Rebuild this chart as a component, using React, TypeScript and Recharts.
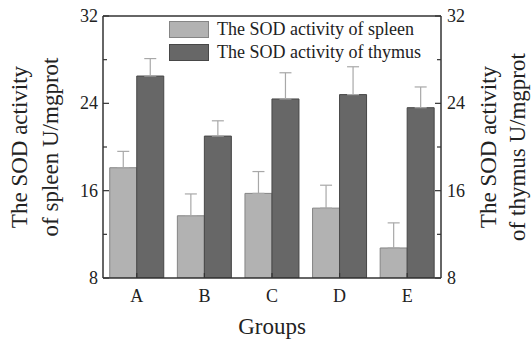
import React from 'react';
import { BarChart, Bar, XAxis, YAxis, ErrorBar, ReferenceLine, Legend } from 'recharts';

const groups = ['A', 'B', 'C', 'D', 'E'];
const spleen = [18.1, 13.7, 15.75, 14.4, 10.75];
const spleenErr = [1.5, 2.0, 2.0, 2.1, 2.3];
const thymus = [26.5, 21.0, 24.4, 24.8, 23.6];
const thymusErr = [1.6, 1.4, 2.4, 2.55, 1.9];
const yTicks = [8, 12, 16, 20, 24, 28, 32];
const majorTicks = [8, 16, 24, 32];

const data = groups.map((g, i) => ({
  group: g,
  spleen: spleen[i],
  spleenErr: [0, spleenErr[i]],
  thymus: thymus[i],
  thymusErr: [0, thymusErr[i]],
}));

const FONT = '"Liberation Serif", "Times New Roman", serif';
const AXIS = '#333';
const SPLEEN_FILL = '#b2b2b2';
const SPLEEN_STROKE = '#858585';
const THYMUS_FILL = '#676767';
const THYMUS_STROKE = '#474747';

const LeftTick = (props: any) => {
  const { x, y, payload } = props;
  const major = majorTicks.includes(payload.value);
  return (
    <g>
      <line x1={x} x2={x + (major ? 6 : 4)} y1={y} y2={y} stroke={AXIS} strokeWidth={1.2} />
      {major && (
        <text x={x - 5} y={y} textAnchor="end" dominantBaseline="central" fontFamily={FONT} fontSize={18} fill="#222">
          {payload.value}
        </text>
      )}
    </g>
  );
};

const RightTick = (props: any) => {
  const { x, y, payload } = props;
  const major = majorTicks.includes(payload.value);
  return (
    <g>
      <line x1={x} x2={x - (major ? 6 : 4)} y1={y} y2={y} stroke={AXIS} strokeWidth={1.2} />
      {major && (
        <text x={x + 6} y={y} textAnchor="start" dominantBaseline="central" fontFamily={FONT} fontSize={18} fill="#222">
          {payload.value}
        </text>
      )}
    </g>
  );
};

const XTick = (props: any) => {
  const { x, y, payload } = props;
  return (
    <g>
      <line x1={x} x2={x} y1={y} y2={y - 5} stroke={AXIS} strokeWidth={1.2} />
      <text x={x} y={y + 18} textAnchor="middle" dominantBaseline="central" fontFamily={FONT} fontSize={18} fill="#222">
        {payload.value}
      </text>
    </g>
  );
};

const LeftLabel = (props: any) => {
  const vb = props.viewBox || {};
  const cy = vb.y + vb.height / 2;
  return (
    <g fontFamily={FONT} fontSize={23} fill="#222">
      <text x={19} y={cy} transform={`rotate(-90, 19, ${cy})`} textAnchor="middle" dominantBaseline="central">
        The SOD activity
      </text>
      <text x={50} y={cy} transform={`rotate(-90, 50, ${cy})`} textAnchor="middle" dominantBaseline="central">
        of spleen U/mgprot
      </text>
    </g>
  );
};

const RightLabel = (props: any) => {
  const vb = props.viewBox || {};
  const cy = vb.y + vb.height / 2;
  return (
    <g fontFamily={FONT} fontSize={23} fill="#222">
      <text x={488} y={cy} transform={`rotate(-90, 488, ${cy})`} textAnchor="middle" dominantBaseline="central">
        The SOD activity
      </text>
      <text x={517} y={cy} transform={`rotate(-90, 517, ${cy})`} textAnchor="middle" dominantBaseline="central">
        of thymus U/mgprot
      </text>
    </g>
  );
};

const legendItems = [
  { label: 'The SOD activity of spleen', fill: SPLEEN_FILL, stroke: SPLEEN_STROKE },
  { label: 'The SOD activity of thymus', fill: THYMUS_FILL, stroke: THYMUS_STROKE },
];

const LegendContent = () => (
  <div style={{ fontFamily: FONT, fontSize: 18, color: '#222' }}>
    {legendItems.map((it) => (
      <div key={it.label} style={{ display: 'flex', alignItems: 'center', height: 23 }}>
        <div style={{ width: 38, height: 15, background: it.fill, border: `1px solid ${it.stroke}`, marginRight: 8 }} />
        <span>{it.label}</span>
      </div>
    ))}
  </div>
);

export default function App() {
  return (
    <div style={{ position: 'absolute', left: 0, top: 0, width: 531, height: 340, background: '#fff' }}>
      <BarChart
        width={531}
        height={340}
        data={data}
        margin={{ top: 16, right: 50, bottom: 32, left: 63 }}
        barCategoryGap="10%"
        barGap={0}
      >
        <XAxis
          dataKey="group"
          height={30}
          axisLine={{ stroke: AXIS, strokeWidth: 1.5 }}
          tickLine={false}
          tickSize={0}
          tickMargin={0}
          tick={<XTick />}
          interval={0}
          label={{ value: 'Groups', position: 'insideBottom', offset: -26, style: { fontFamily: FONT, fontSize: 23, fill: '#222' } }}
        />
        <YAxis
          yAxisId="left"
          width={40}
          domain={[8, 32]}
          ticks={yTicks}
          interval={0}
          allowDataOverflow
          axisLine={{ stroke: AXIS, strokeWidth: 1.5 }}
          tickLine={false}
          tickSize={0}
          tickMargin={0}
          tick={<LeftTick />}
          label={<LeftLabel />}
        />
        <YAxis
          yAxisId="right"
          orientation="right"
          width={40}
          domain={[8, 32]}
          ticks={yTicks}
          interval={0}
          allowDataOverflow
          axisLine={{ stroke: AXIS, strokeWidth: 1.5 }}
          tickLine={false}
          tickSize={0}
          tickMargin={0}
          tick={<RightTick />}
          label={<RightLabel />}
        />
        <ReferenceLine yAxisId="left" y={32} stroke={AXIS} strokeWidth={1.5} />
        <Legend
          verticalAlign="middle"
          align="center"
          layout="horizontal"
          wrapperStyle={{ top: 18, left: 169, width: 265 }}
          content={<LegendContent />}
        />
        <Bar yAxisId="left" dataKey="spleen" fill={SPLEEN_FILL} stroke={SPLEEN_STROKE} strokeWidth={1} isAnimationActive={false}>
          <ErrorBar dataKey="spleenErr" width={6} stroke="#a8a8a8" strokeWidth={1.2} isAnimationActive={false} />
        </Bar>
        <Bar yAxisId="right" dataKey="thymus" fill={THYMUS_FILL} stroke={THYMUS_STROKE} strokeWidth={1} isAnimationActive={false}>
          <ErrorBar dataKey="thymusErr" width={6} stroke="#a8a8a8" strokeWidth={1.2} isAnimationActive={false} />
        </Bar>
      </BarChart>
    </div>
  );
}
